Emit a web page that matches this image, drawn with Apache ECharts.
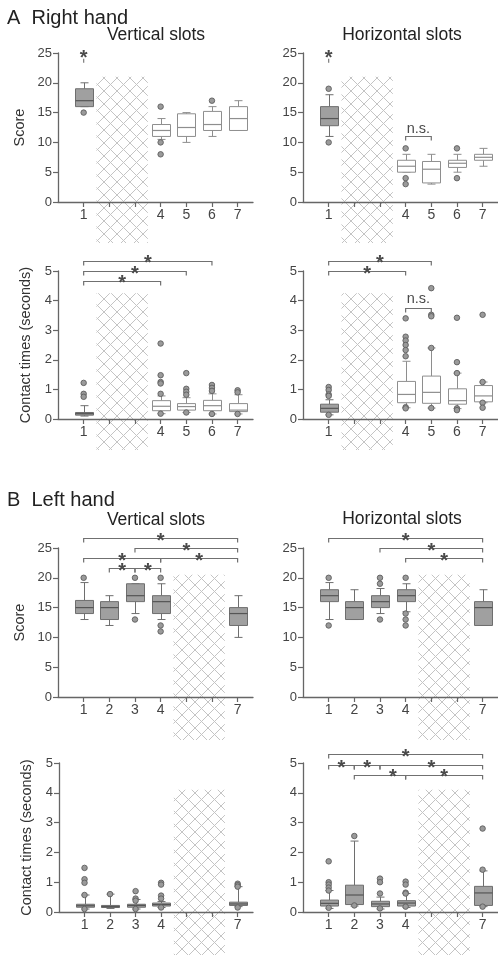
<!DOCTYPE html>
<html>
<head>
<meta charset="utf-8">
<script src="https://cdn.jsdelivr.net/npm/echarts@6/dist/echarts.min.js"></script>
<style>
html, body { margin: 0; padding: 0; background: #fff; }
#chart { width: 498px; height: 976px; }
</style>
</head>
<body>
<div id="chart"></div>
<script>
var FONT = '"Liberation Sans", Arial, sans-serif';

// box items: [slot, min, Q1, median, Q3, max]   outliers: [slot, value]
// A  Right hand
var aVertScoreBoxes = [[1, 16, 16, 17, 19, 20], [4, 10.5, 11, 12, 13, 14], [5, 10, 11, 12.5, 14.8, 15], [6, 11, 12, 13, 15.2, 16], [7, 12, 12, 14, 16, 17]];
var aVertScoreOutliers = [[1, 15], [4, 16], [4, 10], [4, 8], [6, 17]];
var aHorzScoreBoxes = [[1, 11, 12.8, 14, 16, 18], [4, 5, 5, 6, 7, 8], [5, 3, 3.2, 5.5, 6.8, 8], [6, 5, 5.8, 6.5, 7, 8], [7, 6, 7, 7.5, 8, 9]];
var aHorzScoreOutliers = [[1, 19], [1, 10], [4, 9], [4, 4], [4, 3], [6, 9], [6, 4]];
var aVertTimeBoxes = [[1, 0.1, 0.13, 0.18, 0.22, 0.45], [4, 0.18, 0.28, 0.43, 0.62, 0.78], [5, 0.22, 0.3, 0.42, 0.52, 0.72], [6, 0.17, 0.28, 0.45, 0.63, 0.85], [7, 0.17, 0.25, 0.3, 0.52, 0.82]];
var aVertTimeOutliers = [[1, 1.22], [1, 0.85], [1, 0.75], [4, 2.55], [4, 1.48], [4, 1.25], [4, 1.2], [4, 0.85], [4, 0.18], [5, 1.55], [5, 1.02], [5, 0.92], [5, 0.82], [5, 0.22], [6, 1.15], [6, 1.05], [6, 0.95], [6, 0.17], [7, 0.97], [7, 0.9], [7, 0.17]];
var aHorzTimeBoxes = [[1, 0.14, 0.23, 0.36, 0.5, 0.65], [4, 0.38, 0.55, 0.83, 1.27, 1.95], [5, 0.37, 0.53, 0.9, 1.45, 2.4], [6, 0.35, 0.5, 0.62, 1.02, 1.55], [7, 0.55, 0.58, 0.78, 1.13, 1.25]];
var aHorzTimeOutliers = [[1, 1.08], [1, 0.98], [1, 0.83], [1, 0.78], [1, 0.14], [4, 3.4], [4, 2.78], [4, 2.65], [4, 2.5], [4, 2.33], [4, 2.12], [4, 0.4], [4, 0.36], [5, 4.42], [5, 3.52], [5, 3.47], [5, 2.4], [5, 0.37], [6, 3.42], [6, 1.92], [6, 1.55], [6, 0.36], [6, 0.3], [7, 3.52], [7, 1.25], [7, 0.55], [7, 0.38]];

// B  Left hand
var bVertScoreBoxes = [[1, 13, 14, 15, 16.2, 19.2], [2, 12, 13, 15, 16, 17], [3, 14, 16, 17, 19, 19], [4, 13, 14, 16, 17, 19], [7, 10, 12, 14, 15, 17]];
var bVertScoreOutliers = [[1, 20], [3, 20], [3, 13], [4, 20], [4, 12], [4, 11]];
var bHorzScoreBoxes = [[1, 13, 16, 17, 18, 19.2], [2, 13, 13, 15, 16, 18], [3, 14, 15, 16, 17, 18.2], [4, 14.3, 16, 17, 18, 19], [7, 12, 12, 15, 16, 18]];
var bHorzScoreOutliers = [[1, 20], [1, 12], [3, 20], [3, 19], [3, 13], [4, 20], [4, 14], [4, 13], [4, 12]];
var bVertTimeBoxes = [[1, 0.1, 0.16, 0.21, 0.26, 0.57], [2, 0.12, 0.15, 0.18, 0.22, 0.6], [3, 0.1, 0.16, 0.22, 0.26, 0.42], [4, 0.15, 0.2, 0.25, 0.3, 0.35], [7, 0.18, 0.22, 0.27, 0.33, 0.85]];
var bVertTimeOutliers = [[1, 1.48], [1, 1.1], [1, 0.98], [1, 0.57], [1, 0.1], [2, 0.6], [3, 0.7], [3, 0.45], [3, 0.38], [3, 0.1], [4, 0.98], [4, 0.92], [4, 0.55], [4, 0.45], [4, 0.15], [7, 0.95], [7, 0.9], [7, 0.85], [7, 0.15]];
var bHorzTimeBoxes = [[1, 0.12, 0.2, 0.29, 0.4, 0.72], [2, 0.2, 0.25, 0.57, 0.9, 2.38], [3, 0.1, 0.18, 0.27, 0.36, 0.5], [4, 0.15, 0.2, 0.3, 0.38, 0.62], [7, 0.18, 0.22, 0.64, 0.86, 1.38]];
var bHorzTimeOutliers = [[1, 1.7], [1, 1.0], [1, 0.92], [1, 0.82], [1, 0.72], [1, 0.14], [2, 2.55], [2, 0.22], [3, 1.12], [3, 1.0], [3, 0.62], [3, 0.12], [4, 1.02], [4, 0.92], [4, 0.65], [4, 0.62], [4, 0.18], [7, 2.8], [7, 1.42], [7, 0.18]];

// significance brackets [from, to, level], marks [x, y, text]
var aScoreMarks = [[1, 24.6, '*']];
var aScoreDash = [[1, 23.7]];
var aHorzScoreBrackets = [[4, 5, 11]];
var aHorzScoreMarks = [[1, 24.6, '*'], [4.5, 12.2, 'n.s.']];
var aVertTimeBrackets = [[1, 4, 4.67], [1, 5, 5.0], [1, 6, 5.34]];
var aVertTimeMarks = [[2.5, 4.67, '*'], [3, 5.0, '*'], [3.5, 5.34, '*']];
var aHorzTimeBrackets = [[1, 4, 5.0], [1, 5, 5.34], [4, 5, 3.76]];
var aHorzTimeMarks = [[2.5, 5.0, '*'], [3, 5.34, '*'], [4.5, 4.07, 'n.s.']];
var bVertScoreBrackets = [[1, 7, 26.6], [3, 7, 25.0], [1, 4, 23.3], [4, 7, 23.3], [2, 3, 21.6], [3, 4, 21.6]];
var bVertScoreMarks = [[4, 26.6, '*'], [5, 25.0, '*'], [2.5, 23.3, '*'], [5.5, 23.3, '*'], [2.5, 21.6, '*'], [3.5, 21.6, '*']];
var bHorzScoreBrackets = [[1, 7, 26.6], [3, 7, 25.0], [4, 7, 23.3]];
var bHorzScoreMarks = [[4, 26.6, '*'], [5, 25.0, '*'], [5.5, 23.3, '*']];
var bHorzTimeBrackets = [[1, 7, 5.3], [1, 2, 4.93], [2, 3, 4.93], [3, 7, 4.93], [2, 4, 4.6], [4, 7, 4.6]];
var bHorzTimeMarks = [[4, 5.3, '*'], [1.5, 4.93, '*'], [2.5, 4.93, '*'], [5, 4.93, '*'], [3.5, 4.6, '*'], [5.5, 4.6, '*']];

// slots that were not tested: [from, to, top, bottom]
var aScoreHatch = [[1.5, 3.5, 21, -6.9]];
var aTimeHatch = [[1.5, 3.5, 4.25, -1.05]];
var bScoreHatch = [[4.5, 6.5, 20.5, -7.2]];
var bTimeHatch = [[4.5, 6.5, 4.1, -1.44]];

var aSlotLabels = [1, 4, 5, 6, 7];
var bSlotLabels = [1, 2, 3, 4, 7];
var allSlots = [1, 2, 3, 4, 5, 6, 7];

var panels = [
	{ grid: { left: 58, top: 53, width: 195, height: 149 }, yMax: 25, yStep: 5, yName: 'Score', gap: 31, labels: aSlotLabels, gray: [1],
	  boxes: aVertScoreBoxes, outliers: aVertScoreOutliers, hatch: aScoreHatch, brackets: [], marks: aScoreMarks, dash: aScoreDash },
	{ grid: { left: 303, top: 53, width: 195, height: 149 }, yMax: 25, yStep: 5, yName: '', gap: 0, labels: aSlotLabels, gray: [1],
	  boxes: aHorzScoreBoxes, outliers: aHorzScoreOutliers, hatch: aScoreHatch, brackets: aHorzScoreBrackets, marks: aHorzScoreMarks, dash: aScoreDash },
	{ grid: { left: 58, top: 271, width: 195, height: 148 }, yMax: 5, yStep: 1, yName: 'Contact times (seconds)', gap: 25, labels: aSlotLabels, gray: [1],
	  boxes: aVertTimeBoxes, outliers: aVertTimeOutliers, hatch: aTimeHatch, brackets: aVertTimeBrackets, marks: aVertTimeMarks, dash: [] },
	{ grid: { left: 303, top: 271, width: 195, height: 148 }, yMax: 5, yStep: 1, yName: '', gap: 0, labels: aSlotLabels, gray: [1],
	  boxes: aHorzTimeBoxes, outliers: aHorzTimeOutliers, hatch: aTimeHatch, brackets: aHorzTimeBrackets, marks: aHorzTimeMarks, dash: [] },
	{ grid: { left: 58, top: 548, width: 195, height: 149 }, yMax: 25, yStep: 5, yName: 'Score', gap: 31, labels: bSlotLabels, gray: allSlots,
	  boxes: bVertScoreBoxes, outliers: bVertScoreOutliers, hatch: bScoreHatch, brackets: bVertScoreBrackets, marks: bVertScoreMarks, dash: [] },
	{ grid: { left: 303, top: 548, width: 195, height: 149 }, yMax: 25, yStep: 5, yName: '', gap: 0, labels: bSlotLabels, gray: allSlots,
	  boxes: bHorzScoreBoxes, outliers: bHorzScoreOutliers, hatch: bScoreHatch, brackets: bHorzScoreBrackets, marks: bHorzScoreMarks, dash: [] },
	{ grid: { left: 59, top: 763, width: 194, height: 149 }, yMax: 5, yStep: 1, yName: 'Contact times (seconds)', gap: 25, labels: bSlotLabels, gray: allSlots,
	  boxes: bVertTimeBoxes, outliers: bVertTimeOutliers, hatch: bTimeHatch, brackets: [], marks: [], dash: [] },
	{ grid: { left: 303, top: 763, width: 195, height: 149 }, yMax: 5, yStep: 1, yName: '', gap: 0, labels: bSlotLabels, gray: allSlots,
	  boxes: bHorzTimeBoxes, outliers: bHorzTimeOutliers, hatch: bTimeHatch, brackets: bHorzTimeBrackets, marks: bHorzTimeMarks, dash: [] }
];

// cross-hatch tile
var T = 13;
var tile = document.createElement('canvas');
tile.width = T;
tile.height = T;
var tctx = tile.getContext('2d');
tctx.strokeStyle = '#c4c4c4';
tctx.lineWidth = 1;
tctx.beginPath();
tctx.moveTo(0, 0); tctx.lineTo(T, T);
tctx.moveTo(T, 0); tctx.lineTo(0, T);
tctx.stroke();

var HALF = 9, CAP = 4;

function boxRender(gray) {
	return function(params, api) {
		var x = api.value(0);
		var lo = api.coord([x, api.value(1)]);
		var q1 = api.coord([x, api.value(2)]);
		var md = api.coord([x, api.value(3)]);
		var q3 = api.coord([x, api.value(4)]);
		var hi = api.coord([x, api.value(5)]);
		var isGray = gray.indexOf(x) >= 0;
		var edge = isGray ? '#6e6e6e' : '#8e8e8e';
		var cx = Math.round(lo[0]) + 0.5;
		function ln(x1, y1, x2, y2, c, w) {
			return { type: 'line', shape: { x1: x1, y1: y1, x2: x2, y2: y2 }, style: { stroke: c, lineWidth: w || 1 } };
		}
		return { type: 'group', children: [
			ln(cx, hi[1], cx, q3[1], edge),
			ln(cx, q1[1], cx, lo[1], edge),
			ln(cx - CAP, hi[1], cx + CAP, hi[1], edge),
			ln(cx - CAP, lo[1], cx + CAP, lo[1], edge),
			{ type: 'rect', shape: { x: cx - HALF, y: q3[1], width: HALF * 2, height: q1[1] - q3[1] },
			  style: { fill: isGray ? '#a0a0a0' : '#ffffff', stroke: edge, lineWidth: 1 } },
			ln(cx - HALF, md[1], cx + HALF, md[1], isGray ? '#555555' : '#8e8e8e', 1.2)
		] };
	};
}

function hatchRender(params, api) {
	var p1 = api.coord([api.value(0), api.value(2)]);
	var p2 = api.coord([api.value(1), api.value(3)]);
	return { type: 'rect', shape: { x: p1[0], y: p1[1], width: p2[0] - p1[0], height: p2[1] - p1[1] },
	         style: { fill: { image: tile, repeat: 'repeat' } } };
}

function bracketRender(params, api) {
	var a = api.coord([api.value(0), api.value(2)]);
	var b = api.coord([api.value(1), api.value(2)]);
	var y = Math.round(a[1]) + 0.5;
	return { type: 'polyline', shape: { points: [[a[0], y + 4], [a[0], y], [b[0], y], [b[0], y + 4]] },
	         style: { stroke: '#707070', lineWidth: 1.2, fill: null } };
}

function markRender(list) {
	return function(params, api) {
		var p = api.coord([api.value(0), api.value(1)]);
		var t = list[params.dataIndex][2];
		var star = t === '*';
		return { type: 'text', x: p[0], y: p[1] + (star ? 3 : 0),
		         style: { text: t, align: 'center', verticalAlign: 'middle', fill: '#4a4a4a',
		                  font: (star ? 'bold 20px ' : '14.5px ') + FONT } };
	};
}

var grids = [], xAxes = [], yAxes = [], series = [];
panels.forEach(function(p, i) {
	grids.push(p.grid);
	xAxes.push({
		gridIndex: i, type: 'value', min: 0, max: 7.6, interval: 1, z: 3,
		axisLine: { onZero: false, lineStyle: { color: '#666', width: 1.3 } },
		axisTick: { length: 5, customValues: allSlots, lineStyle: { color: '#666', width: 1.2 } },
		axisLabel: { customValues: p.labels, margin: 6, fontSize: 14, color: '#444', fontFamily: FONT },
		splitLine: { show: false }
	});
	yAxes.push({
		gridIndex: i, type: 'value', min: 0, max: p.yMax, interval: p.yStep, z: 3,
		name: p.yName, nameLocation: 'middle', nameGap: p.gap,
		nameTextStyle: { fontSize: 14.5, color: '#333', fontFamily: FONT },
		axisLine: { show: true, lineStyle: { color: '#666', width: 1.3 } },
		axisTick: { show: true, length: 5, lineStyle: { color: '#666', width: 1.2 } },
		axisLabel: { margin: 6, fontSize: 13, color: '#444', fontFamily: FONT },
		splitLine: { show: false }
	});
	series.push({ type: 'custom', xAxisIndex: i, yAxisIndex: i, clip: false, silent: true, z: 1,
	              renderItem: hatchRender, data: p.hatch });
	series.push({ type: 'custom', xAxisIndex: i, yAxisIndex: i, clip: false, silent: true, z: 4,
	              renderItem: boxRender(p.gray), data: p.boxes });
	series.push({ type: 'scatter', xAxisIndex: i, yAxisIndex: i, silent: true, z: 5, symbolSize: 5.5,
	              itemStyle: { color: '#9a9a9a', borderColor: '#5e5e5e', borderWidth: 0.9, opacity: 1 },
	              data: p.outliers });
	series.push({ type: 'scatter', xAxisIndex: i, yAxisIndex: i, silent: true, z: 5, symbol: 'rect', symbolSize: [1.3, 4],
	              itemStyle: { color: '#666' }, data: p.dash });
	series.push({ type: 'custom', xAxisIndex: i, yAxisIndex: i, clip: false, silent: true, z: 5,
	              renderItem: bracketRender, data: p.brackets });
	series.push({ type: 'custom', xAxisIndex: i, yAxisIndex: i, clip: false, silent: true, z: 6,
	              renderItem: markRender(p.marks), data: p.marks.map(function(m) { return [m[0], m[1]]; }) });
});

function label(text, x, y, size, align) {
	return { type: 'text', x: x, y: y, z: 10,
	         style: { text: text, font: size + 'px ' + FONT, fill: '#222', align: align, verticalAlign: 'middle' } };
}

var chart = echarts.init(document.getElementById('chart'));
chart.setOption({
	animation: false,
	backgroundColor: '#fff',
	grid: grids,
	xAxis: xAxes,
	yAxis: yAxes,
	series: series,
	graphic: [
		label('A  Right hand', 7, 18, 20, 'left'),
		label('Vertical slots', 156, 35, 17.5, 'center'),
		label('Horizontal slots', 402, 35, 17.5, 'center'),
		label('B  Left hand', 7, 500, 20, 'left'),
		label('Vertical slots', 156, 520, 17.5, 'center'),
		label('Horizontal slots', 402, 519, 17.5, 'center')
	]
});
</script>
</body>
</html>
